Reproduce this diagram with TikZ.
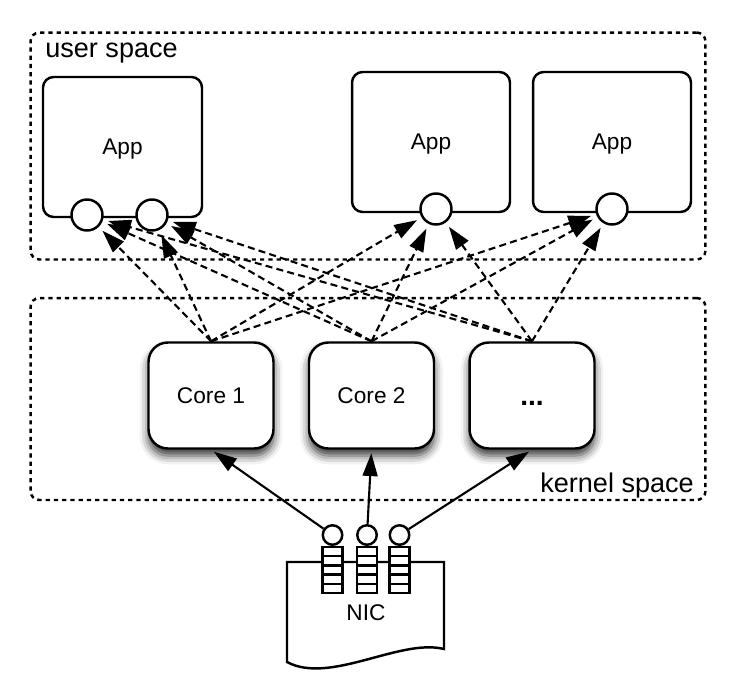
\documentclass[tikz,border=0pt]{standalone}
\usepackage{fontspec}
\setmainfont{Liberation Sans}
\usepackage{tikz}
\usetikzlibrary{arrows.meta,shapes,positioning,shadows,shadows.blur}
\tikzstyle{spacebox} = [rectangle, draw, line width=1.4pt, dash pattern=on 2.4pt off 2.3pt, rounded corners=5pt]
\tikzstyle{spacelabel} = [inner sep=0pt, font=\fontsize{15.4}{18}\selectfont]
\tikzstyle{appbox} = [rectangle, rounded corners=6pt, draw, line width=1.4pt, fill=white, minimum width=3.16cm, minimum height=2.8cm, text depth=0pt, font=\fontsize{12.9}{15}\selectfont]
\tikzstyle{port} = [circle, draw, line width=1.4pt, fill=white, minimum size=0.62cm, inner sep=0pt]
\tikzstyle{corebox} = [rectangle, rounded corners=11pt, draw, line width=1.4pt, fill=white, minimum width=2.5cm, minimum height=2.12cm, font=\fontsize{12.9}{15}\selectfont, blur shadow={shadow xshift=0pt, shadow yshift=-4pt, shadow blur radius=5pt, shadow opacity=80}]
\tikzstyle{qcell} = [rectangle, draw, line width=1.4pt, fill=white, minimum width=0.4cm, minimum height=0.184cm, inner sep=0pt]
\tikzstyle{qport} = [circle, draw, line width=1.4pt, fill=white, minimum size=0.39cm, inner sep=0pt]
\tikzstyle{darrow} = [line width=1.2pt, dash pattern=on 4pt off 2.4pt, -{Triangle[length=13pt,width=8.5pt]}, shorten >=3pt]
\tikzstyle{sarrow} = [line width=1.2pt, -{Triangle[length=13pt,width=8.5pt]}, shorten >=2pt]

\begin{document}
\begin{tikzpicture}[x=0.02cm, y=-0.02cm]
\useasboundingbox (0,0) rectangle (732,686);

% user and kernel space
\node[spacebox, minimum width=13.5cm, minimum height=4.54cm] (user) at (368,146) {};
\node[spacebox, minimum width=13.5cm, minimum height=4.04cm] (kernel) at (368,399) {};
\node[spacelabel, anchor=base west] (userlabel) at (45,58) {user space};
\node[spacelabel, anchor=base west] (kernellabel) at (540,492) {kernel space};

% applications
\node[appbox, minimum width=3.18cm] (app1) at (122.5,147) {App};
\node[appbox] (app2) at (431,142) {App};
\node[appbox] (app3) at (612,142) {App};

\node[port] (p1) at (87,215) {};
\node[port] (p2) at (152,215) {};
\node[port] (p3) at (436,209) {};
\node[port] (p4) at (612,209) {};

% cores
\node[corebox] (core1) at (211,395.5) {Core 1};
\node[corebox] (core2) at (371.5,395.5) {Core 2};
\node[corebox, font=\fontsize{16}{18}\bfseries] (core3) at (532,395.5) {\vphantom{C}...};

% NIC with its queues
\draw[line width=1.4pt] (287,562) -- (444,562) -- (444,649)
  .. controls (400,638) and (330,685) .. (287,662) -- cycle;
\node[font=\fontsize{12.9}{15}\selectfont] (nic) at (366,613) {NIC};

\foreach \x [count=\i] in {332.5,367,399.5} {
  \foreach \j in {0,...,4}
    \node[qcell] (q\i-\j) at (\x,551.6+\j*9.2) {};
  \node[qport] (qp\i) at (\x,535) {};
}

% NIC to cores
\draw[sarrow] (qp1) -- (core1.south);
\draw[sarrow] (qp2) -- (core2.south);
\draw[sarrow] (qp3) -- (core3.south);

% cores to applications
\foreach \c in {core1,core2,core3}
  \foreach \p in {p1,p2,p3,p4}
    \draw[darrow] (\c.north) -- (\p);
\end{tikzpicture}
\end{document}
